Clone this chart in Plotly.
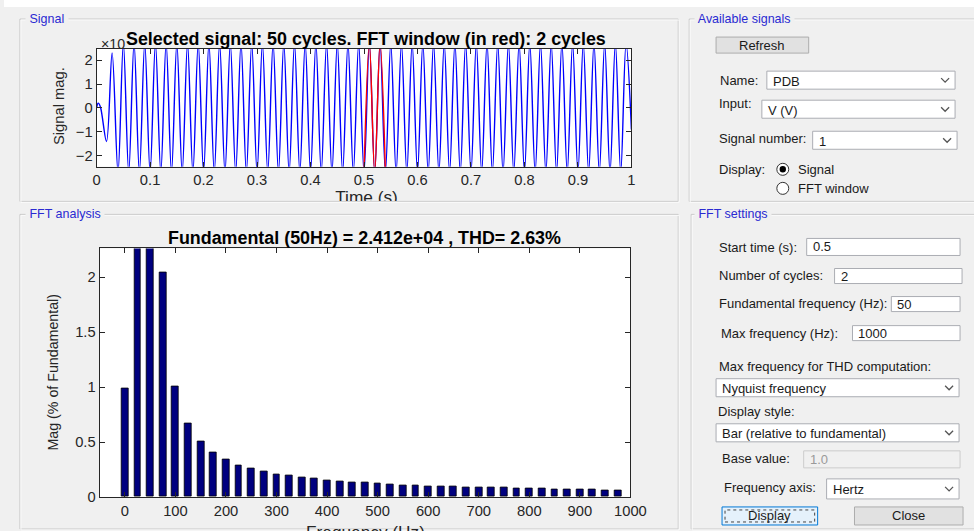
import plotly.graph_objects as go

# ---------------- data ----------------
# Signal trace (x10^4), extremes
sig_time = [0.0, 0.003, 0.007, 0.0185, 0.029,
            0.04, 0.05, 0.06, 0.07, 0.08, 0.09,
            0.10, 0.11, 0.12, 0.13, 0.14, 0.15, 0.16, 0.17, 0.18, 0.19,
            0.20, 0.21, 0.22, 0.23, 0.24, 0.25, 0.26, 0.27, 0.28, 0.29,
            0.30, 0.31, 0.32, 0.33, 0.34, 0.35, 0.36, 0.37, 0.38, 0.39,
            0.40, 0.41, 0.42, 0.43, 0.44, 0.45, 0.46, 0.47, 0.48, 0.49,
            0.50, 0.51, 0.52, 0.53, 0.54, 0.55, 0.56, 0.57, 0.58, 0.59,
            0.60, 0.61, 0.62, 0.63, 0.64, 0.65, 0.66, 0.67, 0.68, 0.69,
            0.70, 0.71, 0.72, 0.73, 0.74, 0.75, 0.76, 0.77, 0.78, 0.79,
            0.80, 0.81, 0.82, 0.83, 0.84, 0.85, 0.86, 0.87, 0.88, 0.89,
            0.90, 0.91, 0.92, 0.93, 0.94, 0.95, 0.96, 0.97, 0.98, 0.99,
            1.0]
sig_mag = [0.0, 0.2, 0.05, -1.4, 2.3,
           -2.7, 2.7, -2.7, 2.7, -2.7, 2.7,
           -2.7, 2.7, -2.7, 2.7, -2.7, 2.7, -2.7, 2.7, -2.7, 2.7,
           -2.7, 2.7, -2.7, 2.7, -2.7, 2.7, -2.7, 2.7, -2.7, 2.7,
           -2.7, 2.7, -2.7, 2.7, -2.7, 2.7, -2.7, 2.7, -2.7, 2.7,
           -2.7, 2.7, -2.7, 2.7, -2.7, 2.7, -2.7, 2.7, -2.7, 2.7,
           -2.7, 2.7, -2.7, 2.7, -2.7, 2.7, -2.7, 2.7, -2.7, 2.7,
           -2.7, 2.7, -2.7, 2.7, -2.7, 2.7, -2.7, 2.7, -2.7, 2.7,
           -2.7, 2.7, -2.7, 2.7, -2.7, 2.7, -2.7, 2.7, -2.7, 2.7,
           -2.7, 2.7, -2.7, 2.7, -2.7, 2.7, -2.7, 2.7, -2.7, 2.7,
           -2.7, 2.7, -2.7, 2.7, -2.7, 2.7, -2.7, 2.7, -2.7, 2.7,
           -0.9]
fft_window = [0.5, 0.54]

time_ticks = [0, 0.1, 0.2, 0.3, 0.4, 0.5, 0.6, 0.7, 0.8, 0.9, 1]
time_labels = ["0", "0.1", "0.2", "0.3", "0.4", "0.5", "0.6", "0.7", "0.8", "0.9", "1"]
sig_ticks = [-2, -1, 0, 1, 2]

# FFT bars (% of fundamental)
fft_freq = [0, 25, 50, 75, 100, 125, 150, 175, 200, 225, 250, 275, 300, 325, 350,
            375, 400, 425, 450, 475, 500, 525, 550, 575, 600, 625, 650, 675, 700,
            725, 750, 775, 800, 825, 850, 875, 900, 925, 950, 975]
fft_mag = [0.99, 3.2, 100.0, 2.045, 1.005, 0.668, 0.504, 0.407, 0.340, 0.291,
           0.258, 0.234, 0.209, 0.194, 0.176, 0.167, 0.152, 0.143, 0.136, 0.128,
           0.122, 0.113, 0.107, 0.100, 0.097, 0.091, 0.091, 0.085, 0.082, 0.082,
           0.082, 0.076, 0.076, 0.076, 0.070, 0.070, 0.070, 0.067, 0.061, 0.061]
freq_ticks = [0, 100, 200, 300, 400, 500, 600, 700, 800, 900, 1000]
mag_ticks = [0, 0.5, 1, 1.5, 2]

signal_title = "Selected signal: 50 cycles. FFT window (in red): 2 cycles"
fft_title = "Fundamental (50Hz) = 2.412e+04 , THD= 2.63%"

# ---------------- helpers ----------------
W, H = 974, 531          # design coordinate system (reference pixels)
FIG_W, FIG_H = 990, 540  # page size that the capture maps onto W x H
FS = 1.016               # font compensation for the capture scaling
FONT = "Liberation Sans, Arial, sans-serif"
AX = "#262626"
GUI = 12.8


def px(x):
    return x / W


def py(y):
    return 1 - y / H


shapes = []
annots = []


def rect(x0, y0, x1, y1, fill=None, line=None, lw=1, dash=None, layer="below"):
    d = dict(type="rect", xref="paper", yref="paper",
             x0=px(x0), x1=px(x1), y0=py(y1), y1=py(y0), layer=layer,
             fillcolor=fill if fill else "rgba(0,0,0,0)",
             line=dict(color=line if line else "rgba(0,0,0,0)", width=lw if line else 0))
    if dash:
        d["line"]["dash"] = dash
    shapes.append(d)


def text(x, y, s, size=GUI, color="#1a1a1a", xanchor="left", bg=None, angle=0, yanchor="middle"):
    a = dict(x=px(x), y=py(y), xref="paper", yref="paper", text=s, showarrow=False,
             xanchor=xanchor, yanchor=yanchor, textangle=angle,
             font=dict(family=FONT, size=size * FS, color=color))
    if bg:
        a["bgcolor"] = bg
        a["borderpad"] = 0
    annots.append(a)


def panel(x0, y0, x1, y1, title, tx):
    rect(x0, y0, x1, y1, line="#c8c8c8")
    rect(x0 + 1, y0 + 1, x1 + 1, y1 + 1, line="#fafafa")
    text(tx, y0, " " + title + " ", size=12.3, color="#2a2ad2", bg="#f0f0f0")


def button(x0, y0, x1, y1, label, focused=False):
    if focused:
        rect(x0, y0, x1, y1, fill="#e5f1fb", line="#0078d7")
        rect(x0 + 3, y0 + 3, x1 - 3, y1 - 3, line="#444444", dash="dot")
    else:
        rect(x0, y0, x1, y1, fill="#e1e1e1", line="#adadad")
    text((x0 + x1) / 2, (y0 + y1) / 2, label, xanchor="center")


def editbox(x0, y0, x1, y1, val, disabled=False):
    if disabled:
        rect(x0, y0, x1, y1, fill="#f0f0f0", line="#cccccc")
        text(x0 + 4, (y0 + y1) / 2, val, color="#9a9a9a")
    else:
        rect(x0, y0, x1, y1, fill="#ffffff", line="#abadb3")
        text(x0 + 4, (y0 + y1) / 2, val)


def dropdown(x0, y0, x1, y1, val):
    rect(x0, y0, x1, y1, fill="#ffffff", line="#abadb3")
    text(x0 + 4, (y0 + y1) / 2 + 1, val)
    cx, cy = x1 - 10, (y0 + y1) / 2
    shapes.append(dict(type="path", xref="paper", yref="paper", layer="below",
                       path=f"M {px(cx-4)},{py(cy-2)} L {px(cx)},{py(cy+2)} L {px(cx+4)},{py(cy-2)}",
                       line=dict(color="#555555", width=1.3)))


def radio(cx, cy, on):
    shapes.append(dict(type="circle", xref="paper", yref="paper", layer="below",
                       x0=px(cx - 6), x1=px(cx + 6), y0=py(cy + 6), y1=py(cy - 6),
                       fillcolor="#ffffff", line=dict(color="#333333", width=1)))
    if on:
        shapes.append(dict(type="circle", xref="paper", yref="paper", layer="below",
                           x0=px(cx - 3.2), x1=px(cx + 3.2), y0=py(cy + 3.2), y1=py(cy - 3.2),
                           fillcolor="#000000", line=dict(color="#000000", width=0)))


# ---------------- GUI background ----------------
rect(0, 0, W, 7, fill="#ffffff")
panel(16, 19, 677, 201, "Signal", 21)
panel(16, 214, 677, 528, "FFT analysis", 21)
panel(688, 19, 990, 201, "Available signals", 693)
panel(690, 214, 990, 528, "FFT settings", 693)

# axes backgrounds
rect(93, 49, 630, 166.5, fill="#ffffff")
rect(96, 248, 629, 496, fill="#ffffff")

# Available signals widgets
button(715, 37, 808, 53, "Refresh")
text(717, 80, "Name:")
dropdown(766, 71, 955, 89, "PDB")
text(716, 103, "Input:")
dropdown(761, 100, 955, 118, "V (V)")
text(716, 138, "Signal number:")
dropdown(812, 131, 957, 149, "1")
text(716, 169, "Display:")
radio(782, 169, True)
text(795, 169, "Signal")
radio(782, 188, False)
text(795, 188, "FFT window")

# FFT settings widgets
text(716, 247, "Start time (s):")
editbox(806, 238, 960, 255, "0.5")
text(716, 275, "Number of cycles:")
editbox(834, 268, 962, 283, "2")
text(716, 303, "Fundamental frequency (Hz):")
editbox(891, 296, 960, 311, "50")
text(718, 333, "Max frequency (Hz):")
editbox(852, 325, 960, 340, "1000")
text(716, 366, "Max frequency for THD computation:")
dropdown(715, 378, 959, 396, "Nyquist frequency")
text(715, 411, "Display style:")
dropdown(715, 423, 959, 441, "Bar (relative to fundamental)")
text(719, 458, "Base value:")
editbox(803, 450, 960, 467, "1.0", disabled=True)
text(721, 487, "Frequency axis:")
dropdown(826, 478, 959, 498, "Hertz")
button(721, 506, 817, 524, "Display", focused=True)
button(854, 506, 963, 524, "Close")

# ---------------- axes text ----------------
text(95, 44, "×10", size=14, color=AX)
text(363, 39, "<b>" + signal_title + "</b>", size=17.6, color="#000000", xanchor="center")
text(55, 106, "Signal mag.", size=14.5, color=AX, xanchor="center", angle=-90)
text(362, 238, "<b>" + fft_title + "</b>", size=17.6, color="#000000", xanchor="center")
text(49, 372, "Mag (% of Fundamental)", size=14, color=AX, xanchor="center", angle=-90)
text(363, 531, "Frequency (Hz)", size=17, color=AX, xanchor="center")

# ---------------- traces ----------------
fig = go.Figure()
fig.add_trace(go.Scatter(x=sig_time, y=sig_mag, mode="lines",
                         line=dict(color="#0000ff", width=1.4, shape="spline", smoothing=1.0),
                         xaxis="x", yaxis="y", showlegend=False, hoverinfo="skip"))
win_t = [t for t in sig_time if fft_window[0] <= t <= fft_window[1]]
win_v = [v for t, v in zip(sig_time, sig_mag) if fft_window[0] <= t <= fft_window[1]]
fig.add_trace(go.Scatter(x=win_t, y=win_v, mode="lines",
                         line=dict(color="#ff0000", width=1.4, shape="spline", smoothing=1.0),
                         xaxis="x", yaxis="y", showlegend=False, hoverinfo="skip"))
fig.add_trace(go.Bar(x=fft_freq, y=fft_mag, width=13.5,
                     marker=dict(color="#00007f", line=dict(color="#000000", width=0.8)),
                     xaxis="x2", yaxis="y2", showlegend=False, hoverinfo="skip"))
# clipped x-label of the signal axes
fig.add_trace(go.Scatter(x=[364], y=[198.5], mode="text", text=["Time (s)"],
                         textfont=dict(family=FONT, size=17 * FS, color=AX),
                         textposition="middle center", cliponaxis=True,
                         xaxis="x3", yaxis="y3", showlegend=False, hoverinfo="skip"))

common = dict(showline=True, linecolor=AX, linewidth=1, mirror="ticks", ticks="inside",
              ticklen=5, tickcolor=AX, showgrid=False, zeroline=False,
              tickfont=dict(family=FONT, size=14.5 * FS, color=AX), fixedrange=True)

fig.update_layout(
    width=FIG_W, height=FIG_H, margin=dict(l=0, r=0, t=0, b=0, pad=0),
    paper_bgcolor="#f0f0f0", plot_bgcolor="rgba(0,0,0,0)",
    bargap=0,
    xaxis=dict(domain=[px(93), px(630)], range=[0, 1], tickvals=time_ticks,
               ticktext=time_labels, anchor="y", **common),
    yaxis=dict(domain=[py(166.5), py(49)], range=[-2.46, 2.46], tickvals=sig_ticks,
               anchor="x", **common),
    xaxis2=dict(domain=[px(96), px(629)], range=[-50, 1000], tickvals=freq_ticks,
                anchor="y2", **common),
    yaxis2=dict(domain=[py(496), py(248)], range=[0, 2.262], tickvals=mag_ticks,
                anchor="x2", **common),
    xaxis3=dict(domain=[0, 1], range=[0, W], visible=False, anchor="y3", fixedrange=True),
    yaxis3=dict(domain=[py(200.5), py(185)], range=[200.5, 185], visible=False,
                anchor="x3", fixedrange=True),
    shapes=shapes, annotations=annots,
)

fig.write_html("out.html",
               config={"displayModeBar": False},
               post_script="document.body.style.margin='0';document.body.style.overflow='hidden';"
                           "document.documentElement.style.overflow='hidden';")
